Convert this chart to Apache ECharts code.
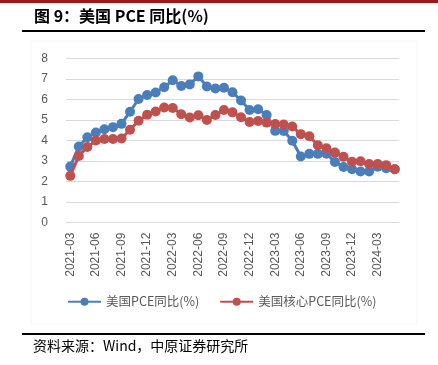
<!DOCTYPE html>
<html>
<head>
<meta charset="utf-8">
<script src="https://cdn.jsdelivr.net/npm/echarts@6/dist/echarts.min.js"></script>
<style>
html,body{margin:0;padding:0;background:#fff;}
#c{width:438px;height:365px;}
</style>
</head>
<body>
<div id="c"></div>
<script>
const categories = ["2021-03","2021-04","2021-05","2021-06","2021-07","2021-08","2021-09","2021-10","2021-11","2021-12",
"2022-01","2022-02","2022-03","2022-04","2022-05","2022-06","2022-07","2022-08","2022-09","2022-10","2022-11","2022-12",
"2023-01","2023-02","2023-03","2023-04","2023-05","2023-06","2023-07","2023-08","2023-09","2023-10","2023-11","2023-12",
"2024-01","2024-02","2024-03","2024-04","2024-05"];
const pceYoY = [2.73,3.71,4.16,4.39,4.55,4.65,4.81,5.40,6.02,6.21,
6.34,6.59,6.93,6.65,6.73,7.12,6.63,6.53,6.57,6.35,5.95,5.48,
5.52,5.24,4.47,4.46,3.99,3.22,3.35,3.35,3.36,2.95,2.71,2.60,
2.49,2.49,2.72,2.65,2.60];
const corePceYoY = [2.28,3.25,3.68,4.00,4.07,4.07,4.10,4.52,4.96,5.25,
5.41,5.61,5.58,5.28,5.12,5.23,5.00,5.24,5.48,5.37,5.13,4.90,
4.95,4.87,4.80,4.78,4.68,4.31,4.21,3.77,3.62,3.41,3.21,2.97,
2.99,2.86,2.86,2.80,2.60];
const seriesNames = ["美国PCE同比(%)","美国核心PCE同比(%)"];
const yTicks = [0,1,2,3,4,5,6,7,8];

const chart = echarts.init(document.getElementById('c'), null, {renderer:'canvas'});
const lab = {color:'#595959', fontSize:12, fontFamily:'Liberation Sans, Arial, sans-serif'};
chart.setOption({
  animation:false,
  backgroundColor:'#fff',
  grid:{left:66, right:39, top:58.3, bottom:142.3, containLabel:false},
  legend:{
    bottom:52, left:62, itemWidth:33, itemHeight:10, itemGap:20,
    textStyle:{color:'#595959', fontSize:12.5, fontFamily:'Noto Sans CJK SC'},
    data:seriesNames
  },
  xAxis:{
    type:'category', data:categories, boundaryGap:true,
    axisLine:{lineStyle:{color:'#d9d9d9', width:1}},
    axisTick:{interval:2, length:5, lineStyle:{color:'#d9d9d9'}},
    axisLabel:Object.assign({interval:2, rotate:90, margin:10}, lab)
  },
  yAxis:{
    type:'value', min:yTicks[0], max:yTicks[yTicks.length-1], interval:1,
    axisLine:{show:false}, axisTick:{show:false},
    splitLine:{lineStyle:{color:'#d9d9d9', width:1}},
    axisLabel:Object.assign({margin:18}, lab)
  },
  series:[
    {name:seriesNames[0], type:'line', data:pceYoY, symbol:'circle', symbolSize:10, showAllSymbol:true,
     lineStyle:{color:'#4a7ebb', width:3}, itemStyle:{color:'#4a7ebb'}, z:2},
    {name:seriesNames[1], type:'line', data:corePceYoY, symbol:'circle', symbolSize:10, showAllSymbol:true,
     lineStyle:{color:'#c0504d', width:3}, itemStyle:{color:'#c0504d'}, z:3}
  ],
  graphic:[
    {type:'rect', shape:{x:0,y:0,width:438,height:3}, style:{fill:'#9c1a1a'}},
    {type:'text', left:34, top:8, style:{text:'图 9：美国 PCE 同比(%)', fill:'#000', font:'bold 16px "Noto Sans CJK SC", sans-serif'}},
    {type:'rect', shape:{x:22,y:30,width:403,height:2}, style:{fill:'#000'}},
    {type:'rect', shape:{x:31,y:41,width:386,height:283}, style:{fill:'none', stroke:'#f2f2f2', lineWidth:1}},
    {type:'rect', shape:{x:22,y:333,width:403,height:2}, style:{fill:'#000'}},
    {type:'text', left:33, top:339, style:{text:'资料来源：Wind，中原证券研究所', fill:'#000', font:'14px "Noto Sans CJK SC", sans-serif'}}
  ]
});
</script>
</body>
</html>
